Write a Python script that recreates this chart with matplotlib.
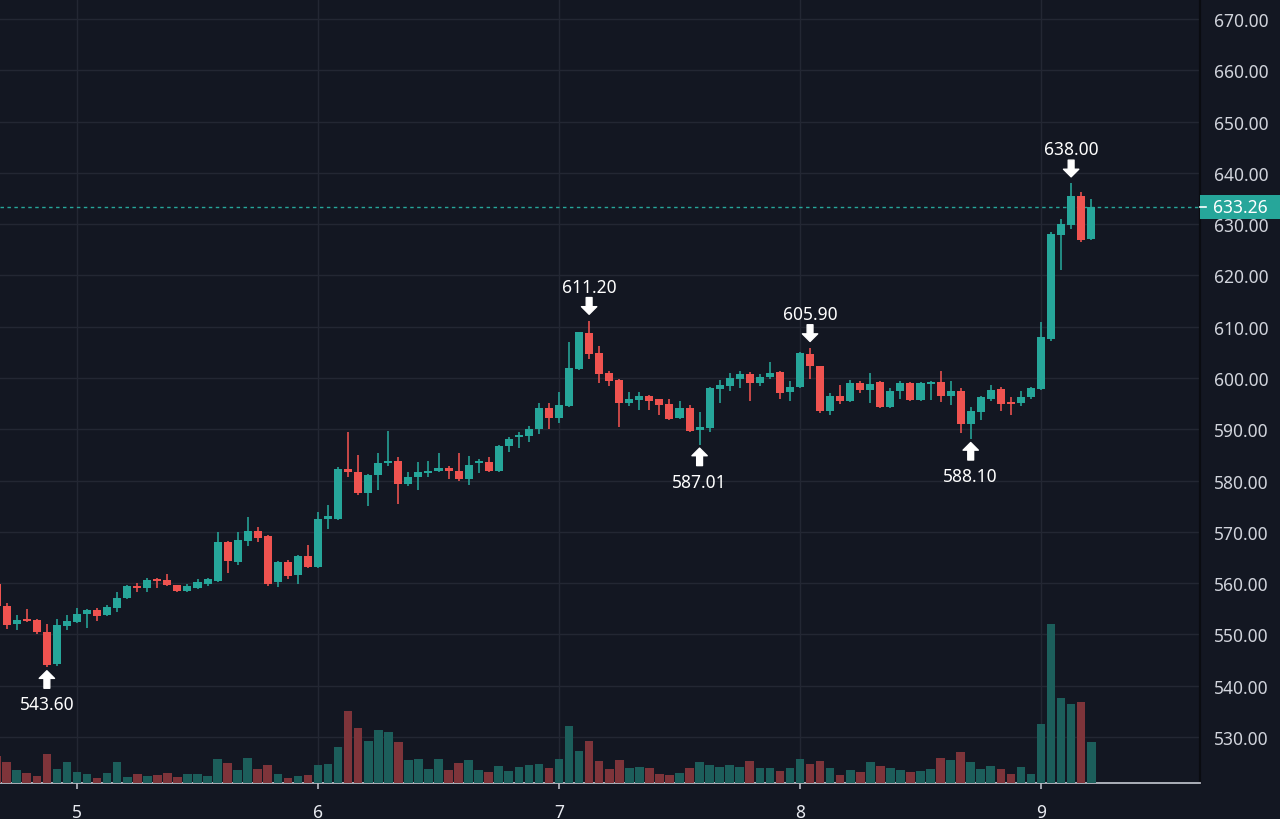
import numpy as np
import matplotlib
matplotlib.use("Agg")
import matplotlib.pyplot as plt
import matplotlib.transforms as mtransforms
from matplotlib.patches import Rectangle
from matplotlib.lines import Line2D

plt.rcParams['font.family'] = ['Noto Sans', 'DejaVu Sans']

# ---------------- data (hourly candles, hour 0 = day 5 00:00) ----------------
start_hour = -8
opens = [559.8, 555.6, 552.0, 553.0, 552.9, 550.4, 544.2, 551.6, 552.5, 554.0,
         554.8, 553.7, 555.1, 557.1, 559.4, 559.0, 560.8, 560.6, 559.6, 558.5,
         559.0, 559.8, 560.5, 568.0, 564.1, 568.3, 570.2, 569.1, 560.3, 564.1,
         561.5, 565.2, 563.2, 572.5, 572.6, 582.3, 581.6, 577.6, 581.1, 583.4,
         583.8, 579.3, 580.6, 581.5, 581.9, 582.4, 581.9, 580.3, 583.4, 583.6,
         581.9, 586.7, 588.4, 588.6, 590.1, 594.1, 592.2, 594.6, 601.8, 608.8,
         604.9, 601.0, 599.6, 595.1, 595.8, 596.4, 595.9, 594.9, 592.2, 594.1,
         589.9, 590.2, 597.9, 598.4, 599.8, 600.8, 599.0, 600.1, 601.1, 597.2,
         598.2, 604.7, 602.3, 593.6, 596.5, 595.6, 599.0, 597.7, 599.2, 594.3,
         597.5, 599.0, 595.8, 598.8, 599.3, 596.5, 597.5, 591.0, 593.4, 596.0,
         597.9, 595.3, 595.1, 596.2, 597.9, 607.6, 627.9, 629.8, 635.4, 627.2]
highs = [560.2, 556.2, 553.7, 555.0, 553.0, 552.0, 553.0, 553.7, 555.1, 555.0,
         555.2, 555.8, 558.3, 559.7, 560.0, 561.0, 561.1, 561.8, 559.7, 559.9,
         560.8, 561.1, 570.0, 568.3, 570.0, 572.8, 570.9, 569.3, 564.4, 564.5,
         565.4, 567.4, 573.8, 575.2, 582.6, 589.5, 584.9, 581.3, 585.3, 589.6,
         584.5, 581.7, 583.6, 583.8, 585.4, 582.8, 585.4, 584.7, 584.2, 584.5,
         587.0, 588.4, 589.4, 590.7, 595.1, 595.1, 597.3, 607.1, 609.0, 611.2,
         606.2, 601.4, 599.8, 597.3, 597.3, 596.6, 596.0, 595.9, 595.6, 594.7,
         593.3, 598.2, 599.6, 601.0, 601.4, 601.2, 600.8, 603.1, 601.4, 599.5,
         605.0, 605.9, 602.4, 597.1, 598.6, 599.7, 599.5, 601.0, 599.4, 598.0,
         599.4, 599.3, 599.2, 599.5, 601.4, 599.4, 598.0, 594.3, 596.5, 598.6,
         598.3, 596.2, 597.5, 598.2, 611.0, 628.5, 631.1, 638.0, 636.3, 634.9]
lows = [555.0, 551.0, 550.9, 552.5, 550.0, 543.6, 543.8, 550.9, 552.3, 551.2,
        552.7, 553.5, 554.4, 556.9, 558.3, 558.2, 559.0, 559.5, 558.3, 558.3,
        558.8, 559.5, 560.3, 562.0, 563.5, 567.3, 568.0, 559.5, 559.2, 560.9,
        559.8, 563.0, 563.0, 570.6, 572.3, 580.6, 577.2, 575.0, 578.2, 582.8,
        575.4, 579.0, 578.2, 580.6, 581.6, 580.3, 580.0, 579.1, 581.5, 581.7,
        581.7, 585.6, 586.3, 587.6, 589.1, 590.1, 591.2, 594.3, 601.5, 603.7,
        599.0, 598.5, 590.5, 594.5, 593.8, 593.8, 592.7, 591.8, 592.0, 589.5,
        587.01, 589.5, 595.1, 597.5, 598.0, 595.6, 598.4, 599.9, 595.9, 595.6,
        598.0, 599.9, 593.2, 592.8, 594.9, 595.4, 597.1, 595.1, 594.1, 594.1,
        595.9, 595.6, 595.6, 595.8, 595.4, 594.7, 589.3, 588.1, 591.9, 595.6,
        593.5, 592.8, 594.5, 596.0, 597.7, 607.3, 621.1, 629.1, 626.6, 627.0]
closes = [555.5, 551.8, 552.9, 552.6, 550.4, 544.0, 551.8, 552.6, 554.0, 554.8,
          553.5, 555.3, 557.2, 559.4, 559.0, 560.6, 560.4, 559.6, 558.5, 559.4,
          560.2, 560.8, 568.0, 564.4, 568.4, 570.2, 568.9, 559.8, 564.1, 561.3,
          565.2, 563.2, 572.6, 573.0, 582.3, 581.6, 577.6, 581.1, 583.4, 583.8,
          579.3, 580.6, 581.6, 581.9, 582.4, 581.9, 580.3, 583.1, 583.8, 581.9,
          586.7, 588.2, 588.8, 590.1, 594.1, 592.2, 594.8, 601.9, 608.9, 604.7,
          600.8, 599.5, 595.1, 595.9, 596.4, 595.6, 594.8, 592.1, 594.1, 589.7,
          590.4, 598.0, 598.6, 600.0, 600.8, 599.0, 600.1, 601.0, 597.1, 598.2,
          604.8, 602.3, 593.6, 596.5, 595.6, 599.0, 597.7, 598.8, 594.3, 597.5,
          599.0, 595.8, 599.0, 599.3, 596.4, 597.5, 591.0, 593.5, 596.2, 597.7,
          595.0, 594.9, 596.2, 598.0, 607.9, 628.1, 630.0, 635.4, 627.0, 633.26]
volumes = [2670, 2070, 1270, 1000, 730, 2900, 1400, 2130, 1070, 870,
           530, 1000, 2070, 600, 870, 730, 800, 1000, 600, 870,
           930, 670, 2430, 2000, 1270, 2500, 1430, 1830, 870, 530,
           730, 830, 1830, 1930, 3600, 7230, 5500, 4170, 5270, 5100,
           4070, 2270, 2400, 1400, 2400, 1330, 2000, 2330, 1270, 1130,
           1670, 1170, 1600, 1770, 1870, 1530, 2430, 5670, 3170, 4170,
           2250, 1400, 2330, 1530, 1600, 1530, 930, 830, 970, 1470,
           2070, 1800, 1630, 1800, 1630, 2230, 1470, 1470, 1230, 1470,
           2400, 1900, 2230, 1530, 830, 1270, 1070, 2130, 1730, 1530,
           1270, 1070, 1200, 1430, 2530, 2330, 3130, 2100, 1430, 1670,
           1430, 930, 1600, 930, 5870, 15870, 8470, 7900, 8130, 4100]
day_labels = ['5', '6', '7', '8', '9']
last_price = 633.26
high_marks = [611.20, 605.90, 638.00]
low_marks = [543.60, 587.01, 588.10]
ytick_values = list(range(530, 671, 10))

# ---------------- style ----------------
BG = '#131722'
GRID = '#232733'
UP = '#26a69a'
DOWN = '#ef5350'
VOL_UP = '#1c5e5b'
VOL_DOWN = '#7e343a'
TXT = '#d1d4dc'

hours = np.arange(start_hour, start_hour + len(opens))
o = np.array(opens); h = np.array(highs); l = np.array(lows); c = np.array(closes)
v = np.array(volumes)
up = c >= o

fig = plt.figure(figsize=(12.8, 8.2), dpi=100, facecolor=BG)
ax = fig.add_axes([0, 36 / 820, 1200 / 1280, 784 / 820])
ax.set_facecolor(BG)

px_per_hour = 241 / 24
ax.set_xlim(-77 / px_per_hour, 1123 / px_per_hour)
ax.set_ylim(670 - 764 / 5.1286, 670 + 20 / 5.1286)

ax.set_yticks(ytick_values)
ax.set_yticklabels([f"{t:.2f}" for t in ytick_values])
ax.set_xticks(np.arange(len(day_labels)) * 24)
ax.set_xticklabels(day_labels)
ax.grid(True, color=GRID, lw=1.0)
ax.set_axisbelow(True)

ax.yaxis.tick_right()
ax.tick_params(axis='y', length=0, pad=10, labelsize=12.5, labelcolor=TXT)
ax.tick_params(axis='x', length=4.5, width=1.2, color='#b8bbc4', pad=10,
               labelsize=12.5, labelcolor='#e8eaf0')
for lbl in ax.get_xticklabels():
    lbl.set_fontweight('semibold')
for s in ['top', 'left']:
    ax.spines[s].set_visible(False)
ax.spines['bottom'].set_color('#b8bbc4')
ax.spines['bottom'].set_linewidth(1.3)
ax.spines['right'].set_color('#0a0c11')
ax.spines['right'].set_linewidth(1.6)

# volume (separate scale, on top, transparent)
axv = ax.twinx()
axv.set_ylim(0, 78400)
axv.bar(hours, v, width=0.86, color=np.where(up, VOL_UP, VOL_DOWN), zorder=1)
axv.axis('off')
ax.yaxis.tick_right()
ax.tick_params(axis='y', length=0, pad=10, labelsize=12.5, labelcolor=TXT)

# candles
colors = np.where(up, UP, DOWN)
ax.vlines(hours, l, h, colors=colors, lw=1.15, zorder=3)
body_lo = np.minimum(o, c)
body_h = np.maximum(np.abs(c - o), 0.3)
ax.bar(hours, body_h, bottom=body_lo, width=0.8, color=colors, zorder=4)

# last price line
ax.axhline(last_price, color=UP, lw=1.0, ls=(0, (2.5, 2.5)), zorder=2)

# high / low markers
arrow_style = 'simple,head_length=0.55,head_width=1.1,tail_width=0.42'
for val in high_marks:
    i = int(np.argmin(np.abs(h - val)))
    x = hours[i]
    ax.annotate('', xy=(x, val), xytext=(0, 23), textcoords='offset pixels',
                arrowprops=dict(arrowstyle=arrow_style, color='white', shrinkA=0,
                                shrinkB=4.5, mutation_scale=10), zorder=6)
    ax.annotate(f"{val:.2f}", xy=(x, val), xytext=(0, 34), textcoords='offset pixels',
                ha='center', va='center', color='white', fontsize=12.5, zorder=6)
for val in low_marks:
    i = int(np.argmin(np.abs(l - val)))
    x = hours[i]
    ax.annotate('', xy=(x, val), xytext=(0, -21), textcoords='offset pixels',
                arrowprops=dict(arrowstyle=arrow_style, color='white', shrinkA=0,
                                shrinkB=2.5, mutation_scale=10), zorder=6)
    ax.annotate(f"{val:.2f}", xy=(x, val), xytext=(0, -37), textcoords='offset pixels',
                ha='center', va='center', color='white', fontsize=12.5, zorder=6)

# last price label on the price scale
trans = mtransforms.blended_transform_factory(fig.transFigure, ax.transData)
half = 12 / 5.1286
fig.add_artist(Rectangle((1199.5 / 1280, last_price - half), 1 - 1199.5 / 1280, 2 * half,
                         transform=trans, facecolor=UP, edgecolor='none', zorder=5))
fig.add_artist(Line2D([1200 / 1280, 1206 / 1280], [last_price, last_price],
                      transform=trans, color='white', lw=1.2, zorder=6))
fig.text(1213 / 1280, last_price, f"{last_price:.2f}", transform=trans, color='white',
         fontsize=12.5, ha='left', va='center', zorder=7)

fig.savefig('out.png', dpi=100, facecolor=BG)
